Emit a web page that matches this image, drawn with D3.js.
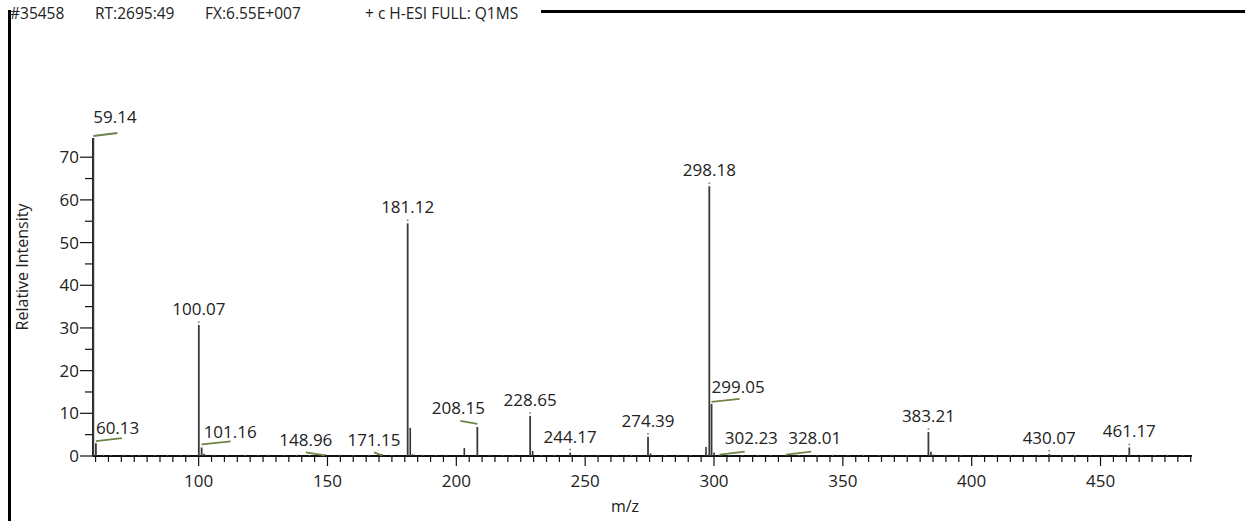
<!DOCTYPE html>
<html>
<head>
<meta charset="utf-8">
<script src="https://cdn.jsdelivr.net/npm/d3@7"></script>
<style>
  body { margin: 0; background: #fff; }
  svg text { font-family: "Open Sans", "Noto Sans", sans-serif; fill: #222; }
</style>
</head>
<body>
<div id="chart"></div>
<script>
// header strings
const headerItems = ["#35458", "RT:2695:49", "FX:6.55E+007", "+ c H-ESI FULL: Q1MS"];

// labelled peaks (m/z, relative intensity)
const peakMz = [59.14, 60.13, 100.07, 101.16, 148.96, 171.15, 181.12, 208.15, 228.65,
  244.17, 274.39, 298.18, 299.05, 302.23, 328.01, 383.21, 430.07, 461.17];
const peakIntensity = [74.5, 3.0, 30.7, 2.0, 0.4, 0.4, 54.5, 6.8, 9.4,
  0.8, 4.5, 63.2, 12.2, 0.3, 0.3, 5.6, 0.5, 2.0];

// unlabelled peaks
const minorMz = [182.12, 203.10, 229.62, 275.40, 296.90, 300.05, 384.20, 385.2, 102.1, 183.1];
const minorIntensity = [6.6, 1.9, 1.2, 0.6, 2.1, 0.8, 1.0, 0.3, 0.5, 0.4];

// baseline noise (read roughly from the dotted base)
const noiseMz = [63, 66, 71, 74, 77, 83, 88, 93, 96, 106, 111, 118, 123, 127, 133, 138, 143,
  155, 160, 166, 175, 187, 192, 196, 213, 218, 222, 233, 238, 249, 255, 262, 268, 281, 286, 291,
  306, 311, 317, 322, 333, 340, 346, 352, 358, 364, 369, 375, 390, 396, 403, 409, 415, 421, 426,
  435, 440, 446, 452, 457, 466, 471, 476, 482];
const noiseIntensity = [0.3, 0.2, 0.3, 0.2, 0.3, 0.2, 0.3, 0.2, 0.3, 0.3, 0.2, 0.3, 0.2, 0.3, 0.2,
  0.3, 0.2, 0.3, 0.2, 0.3, 0.2, 0.3, 0.2, 0.3, 0.3, 0.2, 0.3, 0.2, 0.3, 0.2, 0.3, 0.2, 0.3, 0.2,
  0.3, 0.2, 0.3, 0.2, 0.3, 0.2, 0.3, 0.2, 0.3, 0.2, 0.3, 0.2, 0.3, 0.2, 0.3, 0.2, 0.3, 0.2, 0.3,
  0.2, 0.3, 0.2, 0.3, 0.2, 0.3, 0.2, 0.3, 0.2, 0.3, 0.2];

const yTicks = [0, 10, 20, 30, 40, 50, 60, 70];
const xTicks = [100, 150, 200, 250, 300, 350, 400, 450];

// label placement (pixel offsets from peak top); leader = green line
const labelLayout = {
  "59.14":  { anchor: "start",  dx: 0,   dy: -15, leader: [0, -2, 24, -5] },
  "60.13":  { anchor: "start",  dx: 0,   dy: -9,  leader: [0, -2, 26, -5] },
  "101.16": { anchor: "start",  dx: 2,   dy: -9,  leader: [0, -3, 29, -6] },
  "148.96": { anchor: "middle", dx: -19, dy: -8,  leader: [-19, -2, 0, 1] },
  "171.15": { anchor: "middle", dx: -8,  dy: -8,  leader: [-8, -2, 0, 1] },
  "208.15": { anchor: "middle", dx: -19, dy: -13, leader: [-17, -6, 0, -3] },
  "299.05": { anchor: "start",  dx: 0,   dy: -11, leader: [0, -2, 28, -5] },
  "302.23": { anchor: "start",  dx: 5,   dy: -11, leader: [0, 0, 25, -3] },
  "328.01": { anchor: "start",  dx: 2,   dy: -11, leader: [0, 0, 25, -3] }
};

const width = 1245, height = 521;
const leaderColor = "#6e8446";

const svg = d3.select("#chart").append("svg")
  .attr("width", width).attr("height", height);

const x = d3.scaleLinear().domain([59, 485.5]).range([93, 1192]);
const y = d3.scaleLinear().domain([0, 74.5]).range([456, 138]);

// frame
svg.append("line").attr("x1", 9.5).attr("x2", 9.5).attr("y1", 10).attr("y2", height)
  .attr("stroke", "#000").attr("stroke-width", 3);
svg.append("line").attr("x1", 8).attr("x2", width).attr("y1", 11.5).attr("y2", 11.5)
  .attr("stroke", "#000").attr("stroke-width", 3);

// header
svg.append("rect").attr("x", 11).attr("y", 3).attr("width", 530).attr("height", 20).attr("fill", "#fff");
const headerX = [10, 95, 205, 365];
svg.selectAll("text.header").data(headerItems).join("text")
  .attr("class", "header")
  .attr("x", (d, i) => headerX[i]).attr("y", 19)
  .style("font-size", "15.5px")
  .text(d => d);

// y axis
const yMinor = d3.range(5, 75, 10);
svg.append("line").attr("x1", 93).attr("x2", 93).attr("y1", y(0)).attr("y2", y(74.5))
  .attr("stroke", "#111").attr("stroke-width", 2);
svg.selectAll("line.ymin").data(yMinor).join("line")
  .attr("class", "ymin")
  .attr("x1", 85).attr("x2", 93).attr("y1", d => y(d)).attr("y2", d => y(d))
  .attr("stroke", "#111").attr("stroke-width", 1.2);
svg.selectAll("line.ymaj").data(yTicks).join("line")
  .attr("class", "ymaj")
  .attr("x1", 80).attr("x2", 93).attr("y1", d => y(d)).attr("y2", d => y(d))
  .attr("stroke", "#111").attr("stroke-width", 1.2);
svg.selectAll("text.ytick").data(yTicks).join("text")
  .attr("class", "ytick")
  .attr("x", 79).attr("y", d => y(d) + 6)
  .attr("text-anchor", "end")
  .style("font-size", "17px")
  .text(d => d);

svg.append("text")
  .attr("transform", "translate(28,267) rotate(-90)")
  .attr("text-anchor", "middle")
  .style("font-size", "16px")
  .text("Relative Intensity");

// x axis
const xMinor = d3.range(60, 486, 5).filter(v => v % 50 !== 0);
svg.append("line").attr("x1", 93).attr("x2", 1192).attr("y1", y(0)).attr("y2", y(0))
  .attr("stroke", "#111").attr("stroke-width", 2);
svg.selectAll("line.xmin").data(xMinor).join("line")
  .attr("class", "xmin")
  .attr("x1", d => x(d)).attr("x2", d => x(d)).attr("y1", y(0)).attr("y2", y(0) + 6)
  .attr("stroke", "#111").attr("stroke-width", 1.2);
svg.selectAll("line.xmaj").data(xTicks).join("line")
  .attr("class", "xmaj")
  .attr("x1", d => x(d)).attr("x2", d => x(d)).attr("y1", y(0)).attr("y2", y(0) + 10)
  .attr("stroke", "#111").attr("stroke-width", 1.2);
svg.selectAll("text.xtick").data(xTicks).join("text")
  .attr("class", "xtick")
  .attr("x", d => x(d)).attr("y", 487)
  .attr("text-anchor", "middle")
  .style("font-size", "17px")
  .text(d => d);
svg.append("text").attr("x", 625).attr("y", 512)
  .attr("text-anchor", "middle").style("font-size", "16px").text("m/z");

// noise
svg.selectAll("line.noise").data(noiseMz).join("line")
  .attr("class", "noise")
  .attr("x1", d => x(d)).attr("x2", d => x(d))
  .attr("y1", y(0)).attr("y2", (d, i) => y(noiseIntensity[i]))
  .attr("stroke", "#777").attr("stroke-width", 1);

// peaks
const minor = minorMz.map((m, i) => ({ mz: m, v: minorIntensity[i] }));
svg.selectAll("line.minor").data(minor).join("line")
  .attr("class", "minor")
  .attr("x1", d => x(d.mz)).attr("x2", d => x(d.mz))
  .attr("y1", y(0)).attr("y2", d => y(d.v))
  .attr("stroke", "#333").attr("stroke-width", 1.6);

const peaks = peakMz.map((m, i) => ({ mz: m, v: peakIntensity[i], label: m.toFixed(2) }));
svg.selectAll("line.peak").data(peaks).join("line")
  .attr("class", "peak")
  .attr("x1", d => x(d.mz)).attr("x2", d => x(d.mz))
  .attr("y1", y(0)).attr("y2", d => y(d.v))
  .attr("stroke", "#3a3a3a").attr("stroke-width", 1.8);

const lab = svg.selectAll("g.lab").data(peaks).join("g")
  .attr("class", "lab")
  .attr("transform", d => `translate(${x(d.mz)},${y(d.v)})`);

lab.each(function (d) {
  const g = d3.select(this);
  const L = labelLayout[d.label];
  if (L) {
    g.append("line")
      .attr("x1", L.leader[0]).attr("y1", L.leader[1])
      .attr("x2", L.leader[2]).attr("y2", L.leader[3])
      .attr("stroke", leaderColor).attr("stroke-width", 1.8);
    g.append("text").attr("x", L.dx).attr("y", L.dy)
      .attr("text-anchor", L.anchor).style("font-size", "17px").text(d.label);
  } else {
    g.append("circle").attr("cx", 0).attr("cy", -3).attr("r", 1)
      .attr("fill", "#8a9a5a");
    g.append("text").attr("x", 0).attr("y", -10)
      .attr("text-anchor", "middle").style("font-size", "17px").text(d.label);
  }
});
</script>
</body>
</html>
